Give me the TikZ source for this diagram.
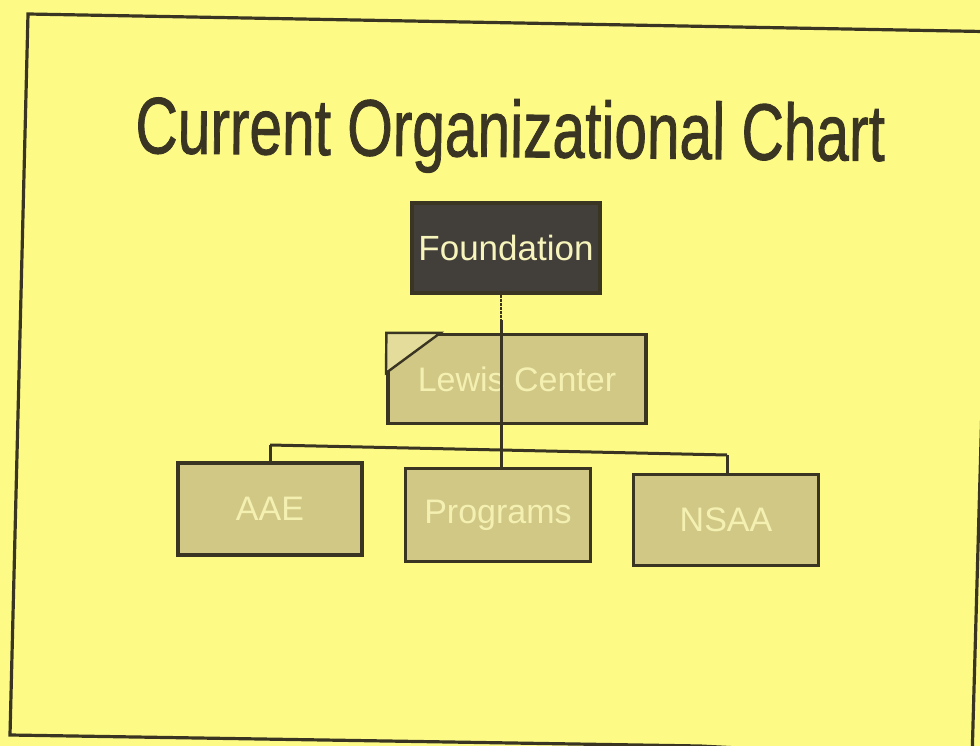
\documentclass[tikz,border=0pt]{standalone}
\usepackage{fontspec}
\setmainfont{Liberation Sans}
\newfontfamily\titlefont[FakeBold=1.2]{Liberation Sans}
\begin{document}
\begin{tikzpicture}[x=1pt,y=-1pt,
  ink/.style={draw=inkc,line width=3.2pt},
  unitbox/.style={ink,fill=boxc,text=boxtext,inner sep=0pt,
    font=\fontsize{34}{36}\selectfont},
  link/.style={draw=inkc,line width=3pt}]
\definecolor{paper}{HTML}{FDFB86}
\definecolor{inkc}{HTML}{3A3522}
\definecolor{boxc}{HTML}{D0C884}
\definecolor{boxtext}{HTML}{F4F0B2}
\definecolor{darkbox}{HTML}{423F3A}
\definecolor{lighttext}{HTML}{F7F4BC}
\definecolor{cornerc}{HTML}{E4DC9A}

% page and slide frame
\useasboundingbox (0,0) rectangle (980,746);
\fill[paper] (0,0) rectangle (980,746);
\begin{scope}
  \clip (0,0) rectangle (980,746);
  \draw[inkc,line width=3.2pt,line join=miter]
    (28,14) -- (1010,32) -- (1010,300) -- (985,300) -- (972,760)
    -- (700,746) -- (10,735) -- cycle;
\end{scope}

% title
\node[anchor=base,text=inkc,rotate=-0.6,
      font=\titlefont\fontsize{80}{84}\selectfont] (title) at (510,157)
  {\scalebox{0.733}[1]{Current Organizational Chart}};

% boxes
\node[ink,fill=darkbox,text=lighttext,minimum width=188pt,minimum height=90pt,
      inner sep=0pt,font=\fontsize{35}{37}\selectfont] (found) at (506,248) {Foundation};
\node[unitbox,minimum width=258pt,minimum height=89pt] (lewis) at (517,379) {Lewis Center};
\node[unitbox,minimum width=184pt,minimum height=92pt] (aae) at (270,509) {AAE};
\node[unitbox,minimum width=185pt,minimum height=93pt] (prog) at (498,515) {Programs};
\node[unitbox,minimum width=185pt,minimum height=91pt] (nsaa) at (726,520) {NSAA};

% folded corner of the Lewis Center box
\filldraw[fill=cornerc,draw=inkc,line width=2.4pt]
  (lewis.north west) -- ++(54,0) -- (386,373) -- cycle;

% connectors
\coordinate (tap) at (501,320);
\coordinate (busL) at (270,445);
\coordinate (busM) at (501,450);
\coordinate (busR) at (727,455);
\draw[link,densely dotted,line width=1.8pt] (found.south -| tap) -- (tap);
\draw[link] (tap) -- (busM) -- (prog.north -| busM);
\draw[link] (busL) -- (busM) -- (busR);
\draw[link] (busL) -- (aae.north);
\draw[link] (busR) -- (nsaa.north -| busR);
\end{tikzpicture}
\end{document}
